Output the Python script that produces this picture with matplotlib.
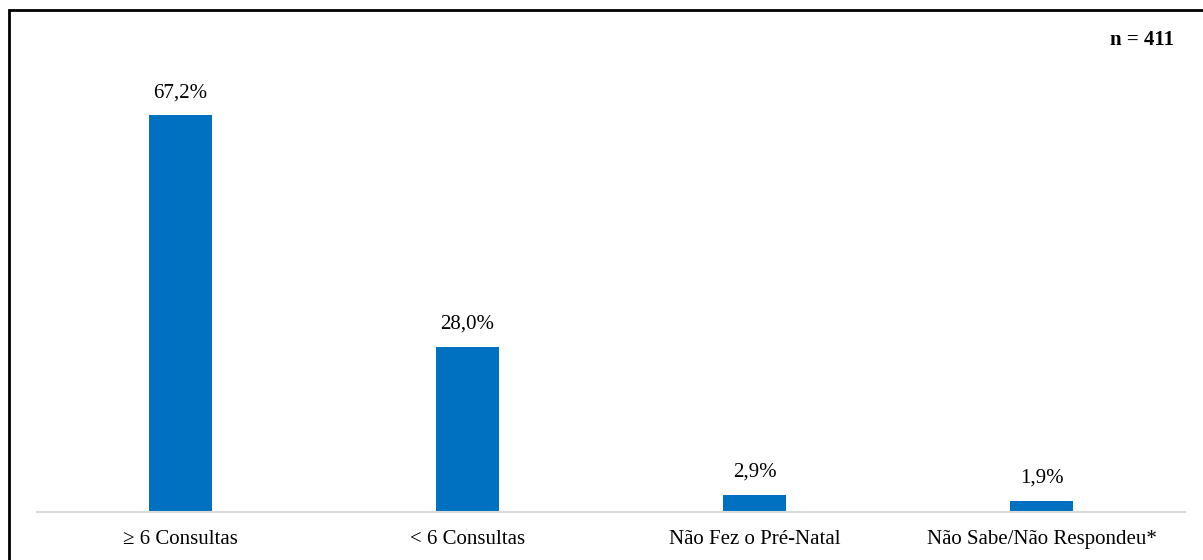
import matplotlib
matplotlib.use("Agg")
import matplotlib.pyplot as plt
from matplotlib.patches import Rectangle

categories = ["\u2265 6 Consultas", "< 6 Consultas", "Não Fez o Pré-Natal", "Não Sabe/Não Respondeu*"]
values = [67.2, 28.0, 2.9, 1.9]
labels = ["67,2%", "28,0%", "2,9%", "1,9%"]
n_label = "n = 411"

W, H = 1203, 560
fig = plt.figure(figsize=(W/100, H/100), dpi=100)
plt.rcParams['font.family'] = ['Liberation Serif', 'DejaVu Serif']

# outer frame (right and bottom edges fall outside the image)
fig.patches.append(Rectangle((8.5/W, -0.1), 1.2, (H-10)/H + 0.1, transform=fig.transFigure,
                             fill=False, edgecolor='black', linewidth=2, clip_on=False))

ax = fig.add_axes([37/W, (H-512)/H, (1185-37)/W, (512-10)/H])
x = range(len(categories))
ax.bar(x, values, width=0.22, color='#0070C0')
for xi, v, lab in zip(x, values, labels):
    ax.text(xi, v + 2.2, lab, ha='center', va='bottom', fontsize=15, color='black')
ax.set_xlim(-0.5, len(categories) - 0.5)
ax.set_ylim(0, 85)
ax.set_xticks(list(x))
ax.set_xticklabels(categories, fontsize=15)
ax.tick_params(axis='x', length=0, pad=13)
ax.set_yticks([])
for s in ['top', 'right', 'left']:
    ax.spines[s].set_visible(False)
ax.spines['bottom'].set_color('#d9d9d9')
ax.spines['bottom'].set_linewidth(1.5)

fig.text(1174/W, (H-40)/H, n_label, ha='right', va='center', fontsize=15, fontweight='bold')

fig.savefig("out.png", dpi=100)
